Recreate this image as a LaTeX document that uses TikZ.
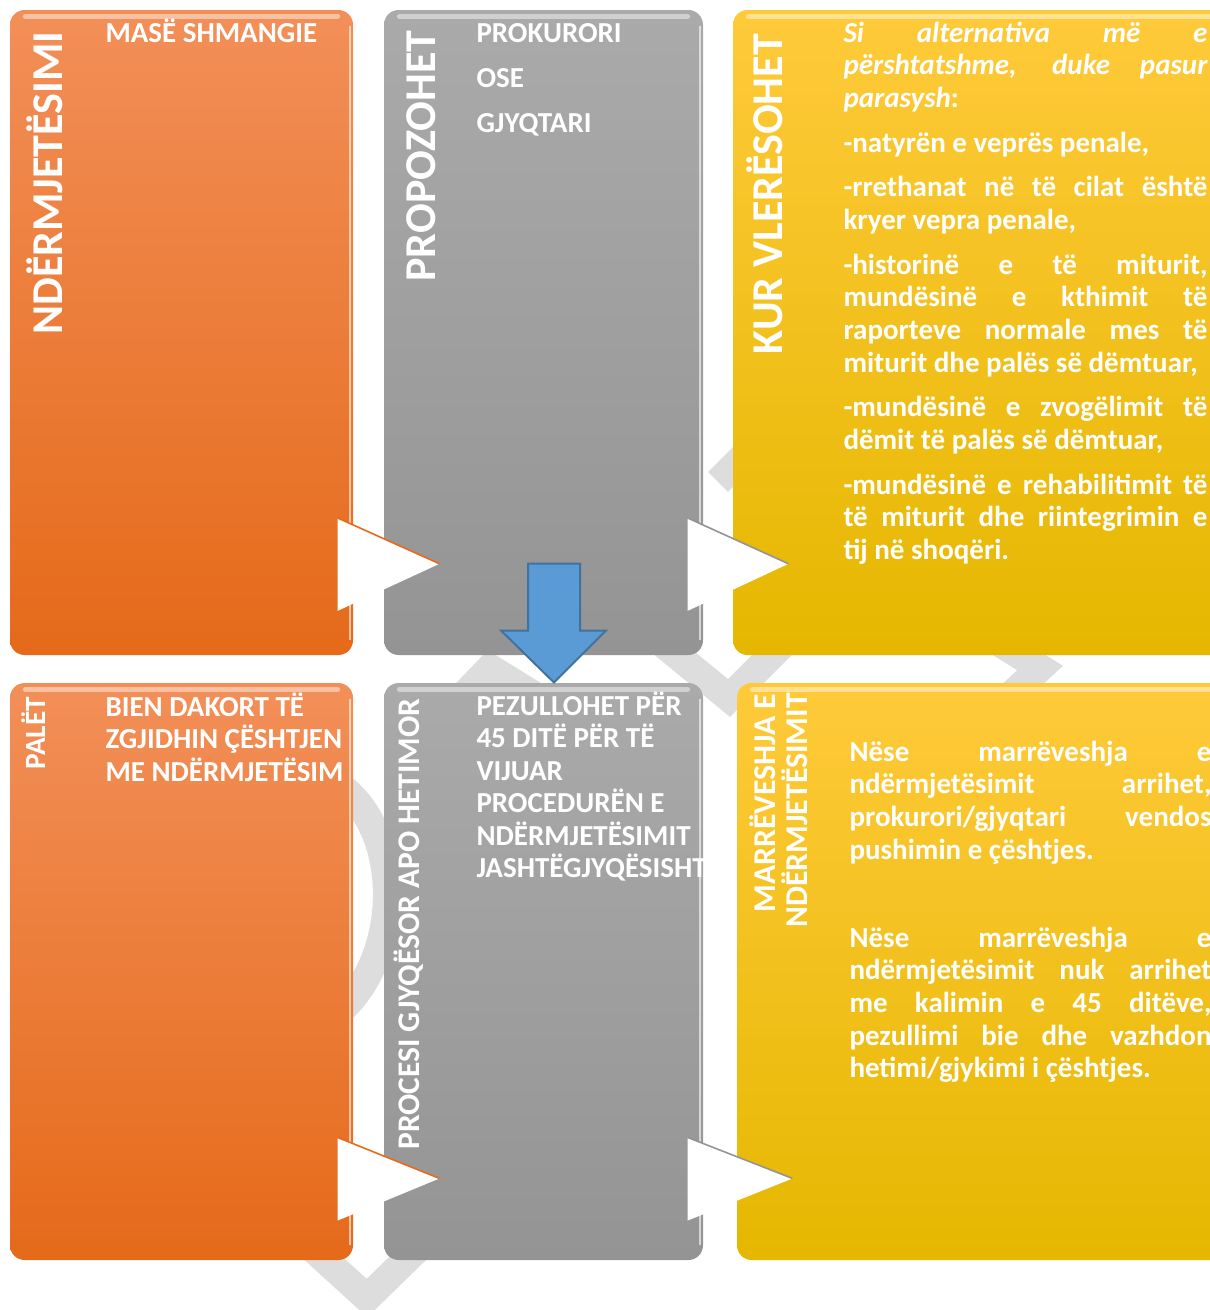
\documentclass[tikz,border=0pt]{standalone}
\usepackage{fontspec}
\setmainfont{Carlito}
\usetikzlibrary{calc}

\definecolor{orangeTop}{RGB}{242,143,88}
\definecolor{orangeBot}{RGB}{229,106,26}
\definecolor{grayTop}{RGB}{170,170,170}
\definecolor{grayBot}{RGB}{148,148,148}
\definecolor{yellowTop}{RGB}{255,202,58}
\definecolor{yellowBot}{RGB}{229,183,0}
\definecolor{arrowBlue}{RGB}{91,155,213}
\definecolor{arrowLine}{RGB}{65,113,156}
\definecolor{markGray}{RGB}{221,221,221}

\hyphenpenalty=10000
\exhyphenpenalty=10000

\tikzset{every picture/.style={line width=0.75pt}}
\tikzset{
  box/.style={rectangle, rounded corners=11pt, inner sep=0pt},
  orangebox/.style={box, top color=orangeTop, bottom color=orangeBot},
  graybox/.style={box, top color=grayTop, bottom color=grayBot},
  yellowbox/.style={box, top color=yellowTop, bottom color=yellowBot},
  sidelabel/.style={rotate=90, anchor=base west, inner sep=0pt, text=white, font=\bfseries\fontsize{33}{33}\selectfont},
  boxtext/.style={anchor=base west, inner sep=0pt, text=white, align=flush left, font=\bfseries\fontsize{21.75}{24.4}\selectfont},
  parabox/.style={boxtext, align=justify, text width=271.5pt, font=\bfseries\fontsize{21.75}{24.5}\selectfont},
  gloss/.style={white, opacity=0.45, line width=4pt, line cap=round},
  passtri/.style={fill=white},
  downarrow/.style={fill=arrowBlue, draw=arrowLine, line width=1.5pt},
  watermark/.style={markGray, line width=21pt},
}

\begin{document}
\begin{tikzpicture}[x=0.75pt,y=0.75pt,yscale=-1,xscale=1]
\useasboundingbox (0,0) rectangle (1210,1310);
\clip (0,0) rectangle (1210,1310);

%Watermark pieces behind the boxes
\draw[watermark] (718,482) -- (800,400);
\draw[watermark] (640,625) -- (729,698) -- (805,622);
\draw[watermark] (955,615) -- (1040,668) -- (995,710);
\draw[watermark] (440,720) -- (490,668) -- (545,702);
\draw[watermark] (290,1228) -- (367,1298) -- (445,1222);
\draw[watermark] (330,780) .. controls (405,820) and (405,960) .. (335,1015);

%Shape: Rectangle (top row)
\node[orangebox, minimum width=257.25pt, minimum height=483.75pt] (o1) at (181.5,332.5) {};
\node[graybox, minimum width=239.25pt, minimum height=483.75pt] (g1) at (543.5,332.5) {};
\node[yellowbox, minimum width=372.75pt, minimum height=483.75pt] (y1) at (981.5,332.5) {};
%Shape: Rectangle (bottom row)
\node[orangebox, minimum width=257.25pt, minimum height=432.75pt] (o2) at (181.5,971.5) {};
\node[graybox, minimum width=239.25pt, minimum height=432.75pt] (g2) at (543.5,971.5) {};
\node[yellowbox, minimum width=369.75pt, minimum height=432.75pt] (y2) at (983.5,971.5) {};

%Gloss on the boxes
\foreach \b in {o1,g1,y1,o2,g2,y2} {
  \draw[gloss] ($(\b.north west)+(16,7)$) -- ($(\b.north east)+(-16,7)$);
}
\foreach \b in {o1,g1,o2,g2} {
  \draw[white, opacity=0.6, line width=1.5pt] ($(\b.north east)+(-4,16)$) -- ($(\b.south east)+(-4,-16)$);
}

%White triangles between the boxes
\foreach \a/\b/\c in {o1/g1/orangeBot, g1/y1/grayBot, o2/g2/orangeBot, g2/y2/grayBot} {
  \fill[passtri] ($(\a.north east)!0.787!(\a.south east)+(-16,0)$) -- ($(\b.north west)!0.858!(\b.south west)+(56,0)$) -- ($(\a.north east)!0.931!(\a.south east)+(-16,0)$) -- cycle;
  \draw[\c, line width=1.2pt] ($(\a.north east)!0.787!(\a.south east)+(-16,0)$) -- ($(\b.north west)!0.858!(\b.south west)+(56,0)$);
}

%Down arrow
\coordinate (dtop) at ($(g1.south)+(10.5,-92)$);
\coordinate (dtip) at ($(g2.north)+(10.5,0)$);
\draw[downarrow] ($(dtop)+(-26,0)$) -- ($(dtop)+(26,0)$) -- ($(dtip)+(26,-52)$) -- ($(dtip)+(52,-52)$) -- (dtip) -- ($(dtip)+(-53,-52)$) -- ($(dtip)+(-26,-52)$) -- cycle;

% Text Node
\node[sidelabel] (lblMediation) at (62,335) {NDËRMJETËSIMI};
% Text Node
\node[boxtext] (txtDiversion) at (105,42) {MASË SHMANGIE};
% Text Node
\node[sidelabel] (lblProposed) at (435,282) {PROPOZOHET};
% Text Node
\node[boxtext, text width=150pt, font=\bfseries\fontsize{21.75}{33.75}\selectfont] (txtProposer) at (476,42) {PROKURORI\\OSE\\GJYQTARI};
% Text Node
\node[sidelabel] (lblAssessed) at (782,355) {KUR VLERËSOHET};
% Text Node
\node[parabox, text width=273pt] (txtCriteria) at (843,42) {\setlength{\parskip}{9pt}\tolerance=9999
{\itshape Si alternativa më e\linebreak përshtatshme, duke pasur\linebreak parasysh}:\par
-natyrën e veprës penale,\par
-rrethanat në të cilat është\linebreak kryer vepra penale,\par
-historinë e të miturit,\linebreak mundësinë e kthimit të\linebreak raporteve normale mes të\linebreak miturit dhe palës së dëmtuar,\par
-mundësinë e zvogëlimit të\linebreak dëmit të palës së dëmtuar,\par
-mundësinë e rehabilitimit të\linebreak të miturit dhe riintegrimin e\linebreak tij në shoqëri.};

% Text Node
\node[sidelabel, font=\bfseries\fontsize{22}{22}\selectfont] (lblParties) at (45,770) {PALËT};
% Text Node
\node[boxtext, text width=195pt] (txtAgree) at (105,716) {BIEN DAKORT TË\\ZGJIDHIN ÇËSHTJEN\\ME NDËRMJETËSIM};
% Text Node
\node[sidelabel, font=\bfseries\fontsize{23.6}{23.6}\selectfont] (lblProcess) at (419,1150) {PROCESI GJYQËSOR APO HETIMOR};
% Text Node
\node[boxtext, text width=195pt] (txtSuspend) at (476,715) {PEZULLOHET PËR\\45 DITË PËR TË\\VIJUAR\\PROCEDURËN E\\NDËRMJETËSIMIT\\JASHTËGJYQËSISHT};
% Text Node
\node[sidelabel, font=\bfseries\fontsize{23.8}{23.8}\selectfont] (lblAgreementA) at (775,913) {MARRËVESHJA E};
\node[sidelabel, font=\bfseries\fontsize{23.8}{23.8}\selectfont] (lblAgreementB) at (807,928) {NDËRMJETËSIMIT};
% Text Node
\node[parabox] (txtReached) at (849,761) {\tolerance=9999 Nëse marrëveshja e\linebreak ndërmjetësimit arrihet,\linebreak prokurori/gjyqtari vendos\linebreak pushimin e çështjes.};
% Text Node
\node[parabox] (txtNotReached) at (849,947) {\tolerance=9999 Nëse marrëveshja e\linebreak ndërmjetësimit nuk arrihet\linebreak me kalimin e 45 ditëve,\linebreak pezullimi bie dhe vazhdon\linebreak hetimi/gjykimi i çështjes.};

\end{tikzpicture}
\end{document}
